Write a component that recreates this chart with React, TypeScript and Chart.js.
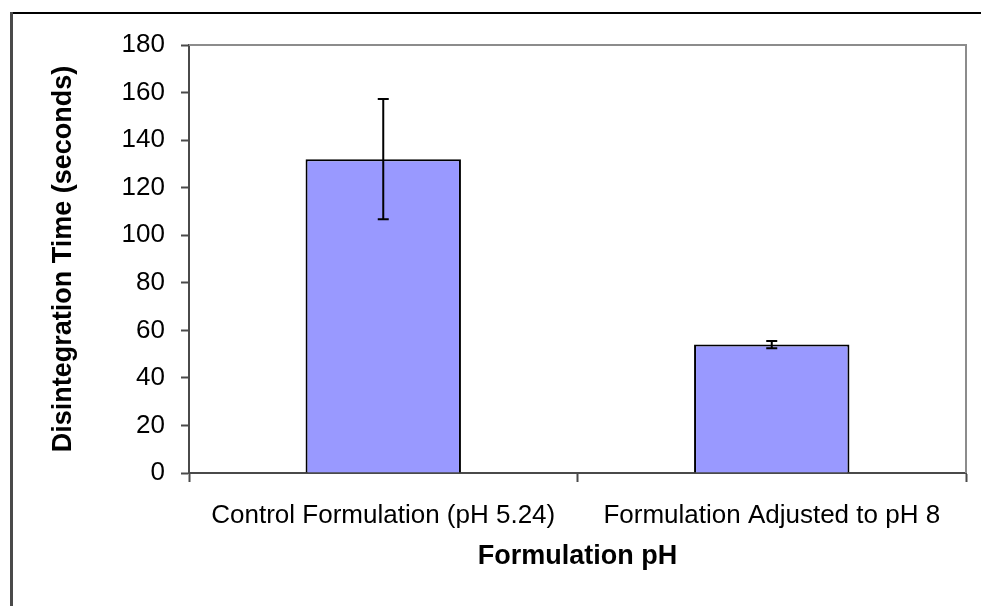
import React, { useEffect, useRef } from "react";
import { Chart, registerables } from "chart.js";

Chart.register(...registerables);

const categories = ["Control Formulation (pH 5.24)", "Formulation Adjusted to pH 8"];
const meanValues = [132, 54];
const errorValues = [25.3, 1.5];
const yTicks = [0, 20, 40, 60, 80, 100, 120, 140, 160, 180];

const FONT = "'Liberation Sans', Arial, sans-serif";

const framePlugin = {
  id: "frame",
  afterDraw(chart: any) {
    const ctx = chart.ctx;
    const { left, right, top } = chart.chartArea;
    ctx.save();
    // plot border (top & right), grey
    ctx.strokeStyle = "#8c8c8c";
    ctx.lineWidth = 2;
    ctx.beginPath();
    ctx.moveTo(left, top);
    ctx.lineTo(right, top);
    ctx.lineTo(right, chart.chartArea.bottom);
    ctx.stroke();
    // outer frame
    ctx.fillStyle = "#000000";
    ctx.fillRect(10, 12, chart.width - 10, 2);
    ctx.fillStyle = "#4a4a4a";
    ctx.fillRect(10, 12, 3, chart.height - 12);
    ctx.restore();
  },
};

const errorBarPlugin = {
  id: "errorBars",
  afterDatasetsDraw(chart: any) {
    const ctx = chart.ctx;
    const meta = chart.getDatasetMeta(0);
    const yScale = chart.scales.y;
    ctx.save();
    ctx.strokeStyle = "#000000";
    ctx.lineWidth = 2;
    meta.data.forEach((bar: any, i: number) => {
      const x = bar.x;
      const yHi = yScale.getPixelForValue(meanValues[i] + errorValues[i]);
      const yLo = yScale.getPixelForValue(meanValues[i] - errorValues[i]);
      const cap = 5.5;
      ctx.beginPath();
      ctx.moveTo(x, yHi);
      ctx.lineTo(x, yLo);
      ctx.moveTo(x - cap, yHi);
      ctx.lineTo(x + cap, yHi);
      ctx.moveTo(x - cap, yLo);
      ctx.lineTo(x + cap, yLo);
      ctx.stroke();
    });
    ctx.restore();
  },
};

export default function App() {
  const ref = useRef<HTMLCanvasElement | null>(null);

  useEffect(() => {
    document.body.style.margin = "0";
    if (!ref.current) return;
    const chart = new Chart(ref.current, {
      type: "bar",
      data: {
        labels: categories,
        datasets: [
          {
            data: meanValues,
            backgroundColor: "#9999ff",
            borderColor: "#000000",
            borderWidth: 2,
            barPercentage: 0.4,
            categoryPercentage: 1,
          },
        ],
      },
      options: {
        animation: false,
        responsive: false,
        maintainAspectRatio: false,
        layout: { padding: { left: 0, right: 15, top: 45, bottom: 0 } },
        plugins: {
          legend: { display: false },
          tooltip: { enabled: false },
        },
        scales: {
          x: {
            offset: true,
            grid: {
              offset: true,
              drawOnChartArea: false,
              drawTicks: true,
              tickLength: 9,
              tickColor: "#4a4a4a",
              tickWidth: 2,
            },
            border: { color: "#4a4a4a", width: 2 },
            ticks: {
              color: "#000000",
              font: { family: FONT, size: 26 },
              padding: 18,
              maxRotation: 0,
            },
            title: {
              display: true,
              text: "Formulation pH",
              color: "#000000",
              font: { family: FONT, size: 27, weight: "bold" },
              padding: { top: 0, bottom: 33 },
            },
            afterFit(scale: any) {
              scale.height = 133;
            },
          },
          y: {
            min: 0,
            max: 180,
            afterBuildTicks(scale: any) {
              scale.ticks = yTicks.map((v) => ({ value: v }));
            },
            grid: {
              drawOnChartArea: false,
              drawTicks: true,
              tickLength: 8,
              tickColor: "#4a4a4a",
              tickWidth: 2,
            },
            border: { color: "#4a4a4a", width: 2 },
            ticks: {
              color: "#000000",
              font: { family: FONT, size: 26 },
              padding: 16,
            },
            title: {
              display: true,
              text: "Disintegration Time (seconds)",
              color: "#000000",
              font: { family: FONT, size: 27, weight: "bold" },
              padding: { top: 47, bottom: 0 },
            },
            afterFit(scale: any) {
              scale.width = 189;
            },
          },
        },
      },
      plugins: [errorBarPlugin, framePlugin],
    });
    return () => chart.destroy();
  }, []);

  return (
    <div style={{ width: 981, height: 606, position: "relative", background: "#ffffff" }}>
      <canvas ref={ref} width={981} height={606} style={{ display: "block" }} />
    </div>
  );
}
